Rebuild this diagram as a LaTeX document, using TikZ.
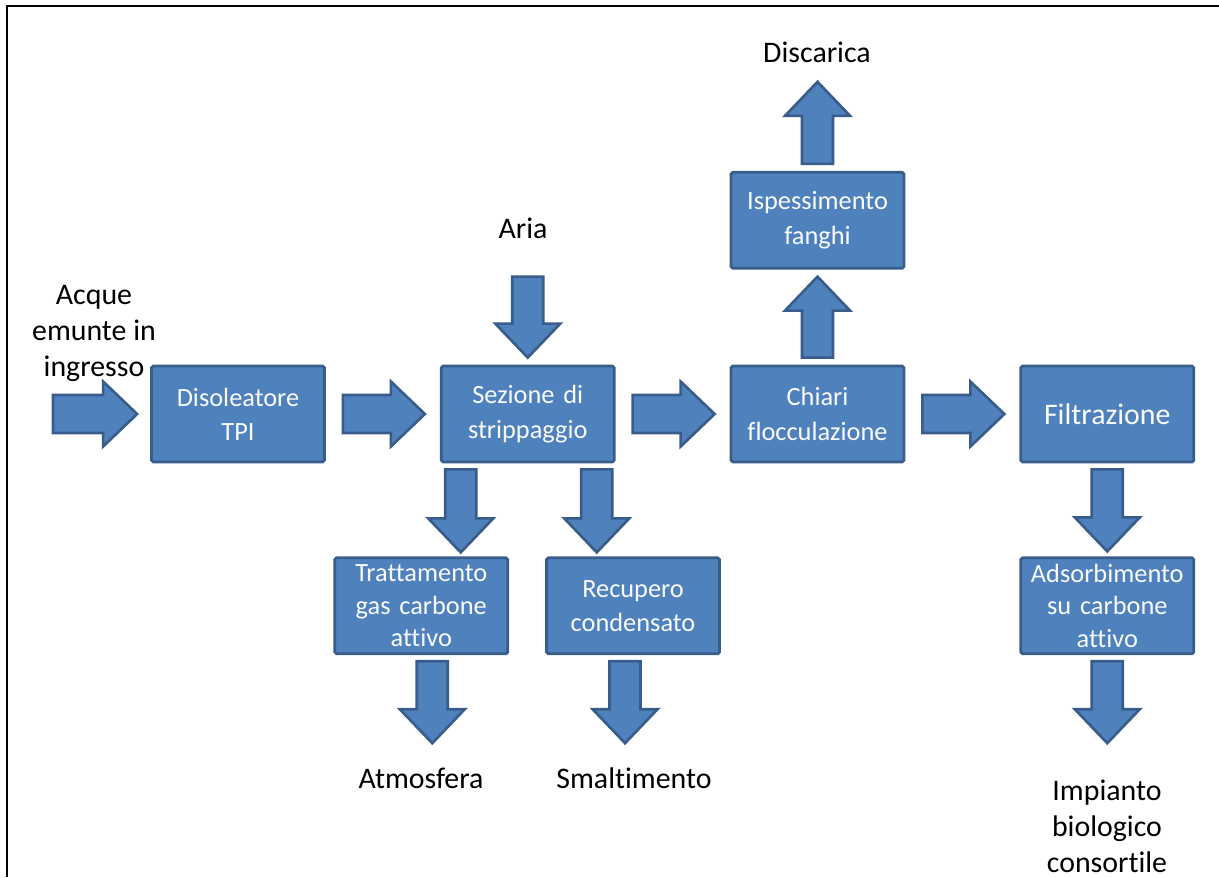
\documentclass[tikz,border=0pt]{standalone}
\usepackage{fontspec}
\setmainfont{Carlito}[Ligatures=NoCommon]
\usepackage{xcolor}
\usepackage{tikz}
\usetikzlibrary{positioning,calc}

\definecolor{boxfill}{HTML}{4F81BD}
\definecolor{boxline}{HTML}{385D8A}

\newcommand{\blockfont}{\fontsize{15}{19.5}\selectfont}
\newcommand{\tightfont}{\fontsize{15}{18.5}\selectfont}
\newcommand{\bigblockfont}{\fontsize{17}{20}\selectfont}
\newcommand{\termfont}{\fontsize{17}{20.5}\selectfont}

% block arrow between two points: [shaft half width]{from}{to}{gap at start}{gap at end}
\newcommand{\flowarrow}[5][0.38cm]{%
  \coordinate (fa-a) at ($(#2)!#4!(#3)$);
  \coordinate (fa-b) at ($(#3)!#5!(#2)$);
  \coordinate (fa-h) at ($(fa-b)!0.68cm!(fa-a)$);
  \filldraw[flow] ($(fa-a)!#1!90:(fa-b)$) -- ($(fa-h)!#1!90:(fa-b)$)
    -- ($(fa-h)!0.65cm!90:(fa-b)$) -- (fa-b) -- ($(fa-h)!0.65cm!-90:(fa-b)$)
    -- ($(fa-h)!#1!-90:(fa-b)$) -- ($(fa-a)!#1!-90:(fa-b)$) -- cycle;}

\begin{document}
\begin{tikzpicture}[
    x=0.02cm, y=-0.02cm,
    box/.style={rectangle, draw=boxline, fill=boxfill, line width=1.6pt, rounded corners=1pt,
      minimum width=3.46cm, minimum height=1.92cm, text width=3.3cm, align=center,
      inner sep=0pt, text=white!96!boxfill, font=\blockfont},
    term/.style={align=center, inner sep=0pt, font=\termfont},
    flow/.style={draw=boxline, fill=boxfill, line width=1.5pt, line join=miter}
]
\useasboundingbox (0,0) rectangle (1219,877);

% frame
\draw[line width=0.9pt] (7,877) -- (7,6) -- (1219,6);

% main line
\node[box] (dis) at (238,414) {Disoleatore\\TPI};
\node[box, right=2.28cm of dis] (sez) {Sezione di\\strippaggio};
\node[box, right=2.28cm of sez] (chi) {Chiari\\flocculazione};
\node[box, right=2.28cm of chi, font=\bigblockfont] (fil) {Filtrazione};

% side branches
\node[box, above=1.9cm of chi] (isp) {Ispessimento\\fanghi};
\node[box, below=1.86cm of sez, xshift=-2.13cm, font=\tightfont] (tra) {Trattamento\\gas carbone\\attivo};
\node[box, right=0.72cm of tra] (rec) {Recupero\\condensato};
\node[box, below=1.86cm of fil, font=\tightfont] (ads) {Adsorbimento\\su carbone\\attivo};

% inputs and outputs
\node[term] (acque) at (94,333) {Acque\\emunte in\\ingresso};
\node[term] (aria) at (523,228) {Aria};
\node[term] (disc) at (817,52) {Discarica};
\node[term] (atm) at (421,778) {Atmosfera};
\node[term] (sma) at (634,778) {Smaltimento};
\node[term] (imp) at (1107,826) {Impianto\\biologico\\consortile};

% horizontal flow
\coordinate (in) at (53,414);
\flowarrow{in}{dis.west}{0cm}{0.26cm}
\flowarrow{dis.east}{sez.west}{0.34cm}{0.30cm}
\flowarrow{sez.east}{chi.west}{0.34cm}{0.30cm}
\flowarrow{chi.east}{fil.west}{0.34cm}{0.30cm}

% air into stripping
\coordinate (aria-out) at ($(sez.north)+(0,-88)$);
\flowarrow[0.31cm]{aria-out}{sez.north}{0cm}{0.14cm}

% stripping outlets
\coordinate (gas-out) at ($(sez.south)+(-67,0)$);
\coordinate (gas-in) at (gas-out |- tra.north);
\flowarrow[0.31cm]{gas-out}{gas-in}{0.12cm}{0.08cm}
\coordinate (cond-out) at ($(sez.south)+(69,0)$);
\coordinate (cond-in) at (cond-out |- rec.north);
\flowarrow[0.31cm]{cond-out}{cond-in}{0.12cm}{0.08cm}

\coordinate (atm-out) at ($(tra.south)+(11,0)$);
\coordinate (atm-in) at ($(atm-out)+(0,88)$);
\flowarrow[0.31cm]{atm-out}{atm-in}{0.12cm}{0cm}
\coordinate (sma-out) at ($(rec.south)+(-8,0)$);
\coordinate (sma-in) at ($(sma-out)+(0,88)$);
\flowarrow[0.31cm]{sma-out}{sma-in}{0.12cm}{0cm}

% sludge line
\flowarrow[0.31cm]{chi.north}{isp.south}{0.14cm}{0.14cm}
\coordinate (disc-in) at ($(isp.north)+(0,-89)$);
\flowarrow[0.31cm]{isp.north}{disc-in}{0.14cm}{0cm}

% filtration line
\flowarrow[0.31cm]{fil.south}{ads.north}{0.12cm}{0.10cm}
\coordinate (imp-in) at ($(ads.south)+(0,88)$);
\flowarrow[0.31cm]{ads.south}{imp-in}{0.12cm}{0cm}

\end{tikzpicture}
\end{document}
